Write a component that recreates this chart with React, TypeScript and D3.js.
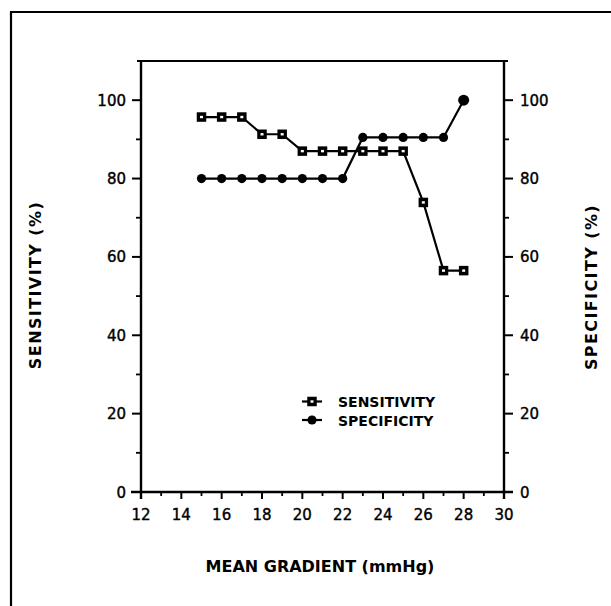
import React from "react";
import * as d3 from "d3";

const gradients = [15, 16, 17, 18, 19, 20, 21, 22, 23, 24, 25, 26, 27, 28];
const sensitivity = [95.7, 95.7, 95.7, 91.3, 91.3, 87, 87, 87, 87, 87, 87, 73.9, 56.5, 56.5];
const specificity = [80, 80, 80, 80, 80, 80, 80, 80, 90.5, 90.5, 90.5, 90.5, 90.5, 100];
const xTicks = [12, 14, 16, 18, 20, 22, 24, 26, 28, 30];
const xMinor = [13, 15, 17, 19, 21, 23, 25, 27, 29];
const yTicks = [0, 20, 40, 60, 80, 100];
const yMinor = [10, 30, 50, 70, 90];

const W = 611;
const H = 606;
const FONT = "'DejaVu Sans', sans-serif";

export default function App() {
  const x = d3.scaleLinear().domain([12, 30]).range([141, 504]);
  const y = d3.scaleLinear().domain([0, 110]).range([492, 61]);
  const line = d3
    .line<number>()
    .x((_, i) => x(gradients[i]))
    .y((d) => y(d));
  const x0 = x(12);
  const x1 = x(30);
  const y0 = y(0);
  const yTop = y(110);
  const sq = 9.5;
  const inW = 3;
  const inH = 2.4;
  return (
    <svg
      width={W}
      height={H}
      style={{ position: "absolute", left: 0, top: 0, background: "#fff" }}
    >
      <rect x={0} y={0} width={W} height={H} fill="#fff" />
      {/* outer frame */}
      <path d={`M11,${H} L11,12 L${W},12`} fill="none" stroke="#000" strokeWidth={2.2} />
      {/* plot box */}
      <line x1={x0 - 4} x2={x1 + 4} y1={yTop} y2={yTop} stroke="#000" strokeWidth={2} />
      <line x1={x0} x2={x0} y1={yTop} y2={y0 + 7} stroke="#000" strokeWidth={2.4} />
      <line x1={x1} x2={x1} y1={yTop} y2={y0 + 7} stroke="#000" strokeWidth={2.4} />
      <line x1={x0 - 10} x2={x1 + 9} y1={y0} y2={y0} stroke="#000" strokeWidth={2.4} />
      {/* x ticks */}
      {xTicks.map((t) => (
        <line key={"xt" + t} x1={x(t)} x2={x(t)} y1={y0} y2={y0 + 7} stroke="#000" strokeWidth={2} />
      ))}
      {xMinor.map((t) => (
        <line key={"xm" + t} x1={x(t)} x2={x(t)} y1={y0} y2={y0 + 4} stroke="#000" strokeWidth={1.8} />
      ))}
      {xTicks.map((t) => (
        <text
          key={"xl" + t}
          x={x(t)}
          y={520}
          textAnchor="middle"
          fontFamily={FONT}
          fontSize={15}
          stroke="#000"
          strokeWidth={0.4}
        >
          {t}
        </text>
      ))}
      {/* y ticks left and right */}
      {yTicks.map((t) => (
        <g key={"yt" + t}>
          <line x1={x0 - 9} x2={x0} y1={y(t)} y2={y(t)} stroke="#000" strokeWidth={2} />
          <line x1={x1} x2={x1 + 9} y1={y(t)} y2={y(t)} stroke="#000" strokeWidth={2} />
          <text
            x={x0 - 15}
            y={y(t) + 5.5}
            textAnchor="end"
            fontFamily={FONT}
            fontSize={15}
            stroke="#000"
            strokeWidth={0.4}
          >
            {t}
          </text>
          <text
            x={x1 + 16}
            y={y(t) + 5.5}
            textAnchor="start"
            fontFamily={FONT}
            fontSize={15}
            stroke="#000"
            strokeWidth={0.4}
          >
            {t}
          </text>
        </g>
      ))}
      {yMinor.map((t) => (
        <g key={"ym" + t}>
          <line x1={x0 - 5} x2={x0} y1={y(t)} y2={y(t)} stroke="#000" strokeWidth={1.8} />
          <line x1={x1} x2={x1 + 5} y1={y(t)} y2={y(t)} stroke="#000" strokeWidth={1.8} />
        </g>
      ))}
      {/* series lines */}
      <path d={line(sensitivity) || ""} fill="none" stroke="#000" strokeWidth={2.2} />
      <path d={line(specificity) || ""} fill="none" stroke="#000" strokeWidth={2.2} />
      {/* markers */}
      {specificity.map((v, i) => (
        <circle key={"sp" + i} cx={x(gradients[i])} cy={y(v)} r={i === specificity.length - 1 ? 5.5 : 4.6} fill="#000" />
      ))}
      {sensitivity.map((v, i) => (
        <g key={"se" + i}>
          <rect x={x(gradients[i]) - sq / 2} y={y(v) - sq / 2} width={sq} height={sq} fill="#000" />
          <rect x={x(gradients[i]) - inW / 2} y={y(v) - inH / 2} width={inW} height={inH} fill="#fff" />
        </g>
      ))}
      {/* legend */}
      <g>
        <line x1={302} x2={322} y1={401.5} y2={401.5} stroke="#000" strokeWidth={2.2} />
        <rect x={312 - sq / 2} y={401.5 - sq / 2} width={sq} height={sq} fill="#000" />
        <rect x={312 - inW / 2} y={401.5 - inH / 2} width={inW} height={inH} fill="#fff" />
        <text x={338} y={407} fontFamily={FONT} fontSize={14} fontWeight="bold">
          SENSITIVITY
        </text>
        <line x1={302} x2={322} y1={420} y2={420} stroke="#000" strokeWidth={2.2} />
        <circle cx={312} cy={420} r={4.6} fill="#000" />
        <text x={338} y={425.5} fontFamily={FONT} fontSize={14} fontWeight="bold">
          SPECIFICITY
        </text>
      </g>
      {/* axis titles */}
      <text
        x={320}
        y={572}
        textAnchor="middle"
        fontFamily={FONT}
        fontSize={16}
        fontWeight="bold"
      >
        MEAN GRADIENT (mmHg)
      </text>
      <text
        transform="translate(41,285) rotate(-90)"
        textAnchor="middle"
        fontFamily={FONT}
        fontSize={16}
        fontWeight="bold"
        letterSpacing={1.4}
      >
        SENSITIVITY (%)
      </text>
      <text
        transform="translate(597,287) rotate(-90)"
        textAnchor="middle"
        fontFamily={FONT}
        fontSize={16}
        fontWeight="bold"
        letterSpacing={1.4}
      >
        SPECIFICITY (%)
      </text>
    </svg>
  );
}
